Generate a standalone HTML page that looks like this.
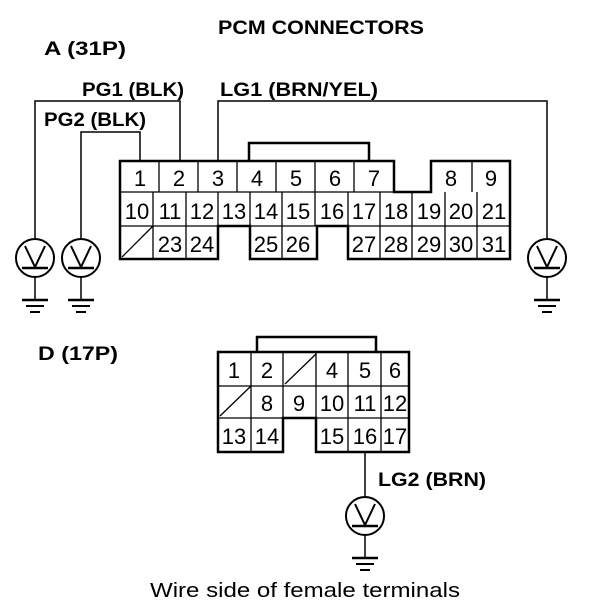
<!DOCTYPE html>
<html><head><style>
html,body{margin:0;padding:0;background:#fff;}
svg{display:block;}
text{font-family:"Liberation Sans",sans-serif;fill:#000;}
.b{font-weight:bold;font-size:19px;}
.n{font-size:22px;}
</style></head><body>
<svg width="608" height="614" viewBox="0 0 608 614" xmlns="http://www.w3.org/2000/svg">
<g stroke="#000" fill="none">
<g stroke-width="2.5">
<path d="M120,161 H394 V192 H431 V161 H510 V259 H348 V226 H317 V259 H250 V226 H218 V259 H120 Z"/>
<polyline points="249,161 249,143 369,143 369,161"/>
</g>
<g stroke-width="1.3">
<line x1="120" y1="192" x2="394" y2="192"/>
<line x1="120" y1="226" x2="218" y2="226"/>
<line x1="348" y1="226" x2="510" y2="226"/>
<line x1="250" y1="226" x2="317" y2="226"/>
<line x1="159" y1="161" x2="159" y2="192"/>
<line x1="198" y1="161" x2="198" y2="192"/>
<line x1="237" y1="161" x2="237" y2="192"/>
<line x1="276" y1="161" x2="276" y2="192"/>
<line x1="315" y1="161" x2="315" y2="192"/>
<line x1="354" y1="161" x2="354" y2="192"/>
<line x1="472" y1="161" x2="472" y2="192"/>
<line x1="153" y1="192" x2="153" y2="259"/>
<line x1="186" y1="192" x2="186" y2="259"/>
<line x1="218" y1="192" x2="218" y2="226"/>
<line x1="250" y1="192" x2="250" y2="226"/>
<line x1="282" y1="192" x2="282" y2="259"/>
<line x1="315" y1="192" x2="315" y2="226"/>
<line x1="348" y1="192" x2="348" y2="226"/>
<line x1="380" y1="192" x2="380" y2="259"/>
<line x1="412" y1="192" x2="412" y2="259"/>
<line x1="445" y1="192" x2="445" y2="259"/>
<line x1="477" y1="192" x2="477" y2="259"/>
<line x1="122" y1="257" x2="153" y2="226"/>
</g>
<g stroke-width="1.5">
<polyline points="180,161 180,101 35,101 35,238"/>
<polyline points="140,161 140,132 81,132 81,238"/>
<polyline points="218,161 218,101 547,101 547,238"/>
</g>
<g stroke-width="2.5">
<path d="M218,352 H409 V452 H316 V418 H283 V452 H218 Z"/>
<polyline points="257,352 257,337 376,337 376,352"/>
</g>
<g stroke-width="1.3">
<line x1="218" y1="386" x2="409" y2="386"/>
<line x1="218" y1="418" x2="409" y2="418"/>
<line x1="251" y1="352" x2="251" y2="452"/>
<line x1="283" y1="352" x2="283" y2="418"/>
<line x1="316" y1="352" x2="316" y2="452"/>
<line x1="348" y1="352" x2="348" y2="452"/>
<line x1="381" y1="352" x2="381" y2="452"/>
<line x1="220" y1="416" x2="251" y2="386"/>
<line x1="285" y1="384" x2="316" y2="354"/>
</g>
<line x1="365" y1="452" x2="365" y2="497" stroke-width="1.5"/>
</g>
<defs>
<g id="lamp" stroke="#000" fill="none">
<circle cx="0" cy="0" r="19" stroke-width="2"/>
<polyline points="-10,-12 0,9 10,-12" stroke-width="2"/>
<line x1="-13" y1="10" x2="13" y2="10" stroke-width="2.5"/>
<line x1="0" y1="19" x2="0" y2="42" stroke-width="1.5"/>
<line x1="-13" y1="42" x2="13" y2="42" stroke-width="2.5"/>
<line x1="-9" y1="48" x2="9" y2="48" stroke-width="2"/>
<line x1="-5" y1="54" x2="5" y2="54" stroke-width="2"/>
</g>
</defs>
<use href="#lamp" x="35" y="258"/>
<use href="#lamp" x="81" y="258"/>
<use href="#lamp" x="547" y="258"/>
<use href="#lamp" x="365" y="516"/>
<text class="b" x="218" y="34" textLength="206" lengthAdjust="spacingAndGlyphs">PCM CONNECTORS</text>
<text class="b" x="44" y="55" textLength="82" lengthAdjust="spacingAndGlyphs">A (31P)</text>
<text class="b" x="82" y="96" textLength="102" lengthAdjust="spacingAndGlyphs">PG1 (BLK)</text>
<text class="b" x="220" y="96" textLength="158" lengthAdjust="spacingAndGlyphs">LG1 (BRN/YEL)</text>
<text class="b" x="44" y="126" textLength="102" lengthAdjust="spacingAndGlyphs">PG2 (BLK)</text>
<text class="b" x="38" y="360" textLength="80" lengthAdjust="spacingAndGlyphs">D (17P)</text>
<text class="b" x="378" y="486" textLength="108" lengthAdjust="spacingAndGlyphs">LG2 (BRN)</text>
<text x="305" y="597" font-size="20" text-anchor="middle" textLength="310" lengthAdjust="spacingAndGlyphs">Wire side of female terminals</text>
<g class="n" text-anchor="middle">
<text x="140" y="186">1</text><text x="179" y="186">2</text><text x="218" y="186">3</text>
<text x="257" y="186">4</text><text x="296" y="186">5</text><text x="335" y="186">6</text>
<text x="374" y="186">7</text><text x="451" y="186">8</text><text x="491" y="186">9</text>
<text x="137" y="219">10</text><text x="170" y="219">11</text><text x="202" y="219">12</text>
<text x="234" y="219">13</text><text x="266" y="219">14</text><text x="298" y="219">15</text>
<text x="332" y="219">16</text><text x="364" y="219">17</text><text x="396" y="219">18</text>
<text x="429" y="219">19</text><text x="461" y="219">20</text><text x="494" y="219">21</text>
<text x="170" y="252">23</text><text x="202" y="252">24</text>
<text x="266" y="252">25</text><text x="298" y="252">26</text>
<text x="364" y="252">27</text><text x="396" y="252">28</text><text x="429" y="252">29</text>
<text x="461" y="252">30</text><text x="494" y="252">31</text>
</g>
<g class="n" text-anchor="middle">
<text x="234" y="378">1</text><text x="267" y="378">2</text>
<text x="332" y="378">4</text><text x="365" y="378">5</text><text x="395" y="378">6</text>
<text x="267" y="411">8</text><text x="299" y="411">9</text><text x="332" y="411">10</text>
<text x="365" y="411">11</text><text x="395" y="411">12</text>
<text x="234" y="444">13</text><text x="267" y="444">14</text>
<text x="332" y="444">15</text><text x="365" y="444">16</text><text x="395" y="444">17</text>
</g>
</svg>
</body></html>
